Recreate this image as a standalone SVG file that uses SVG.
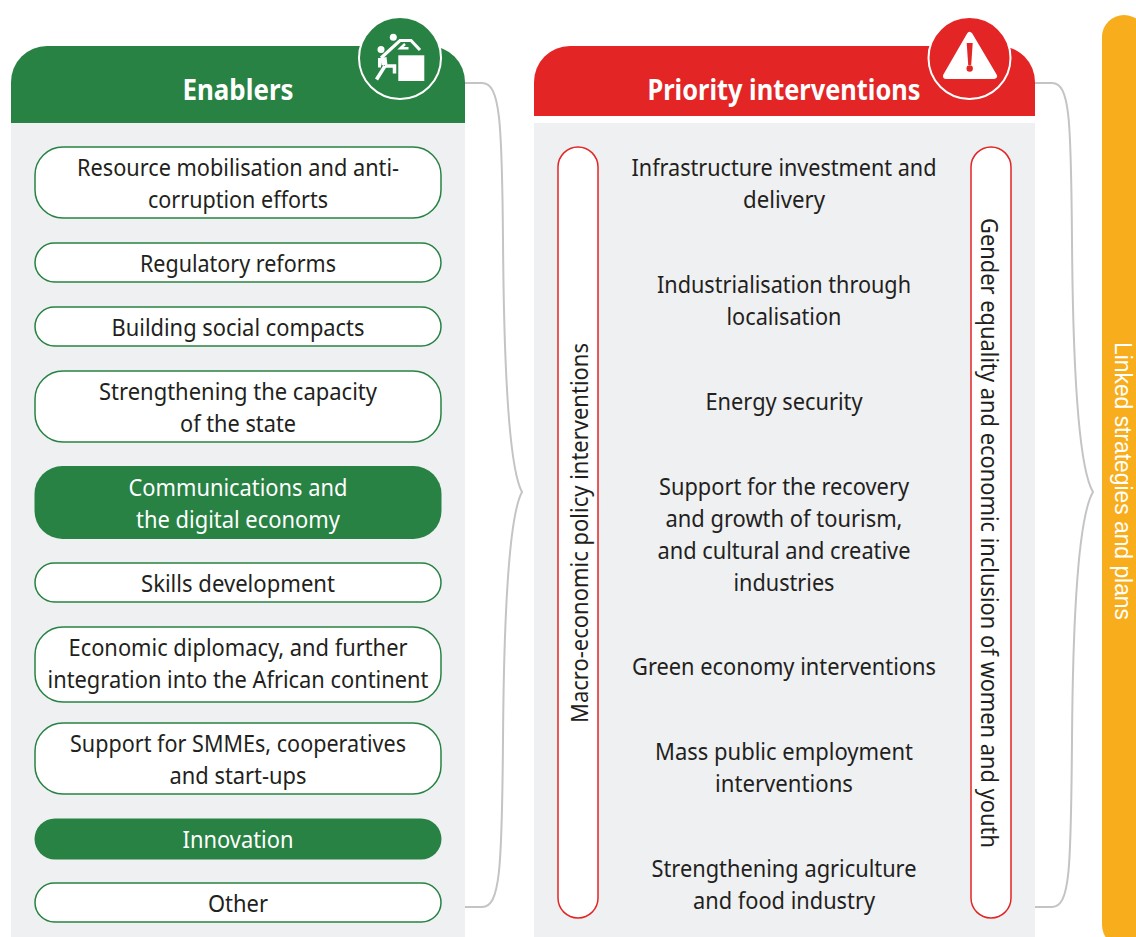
<svg xmlns="http://www.w3.org/2000/svg" width="1136" height="937" viewBox="0 0 1136 937">
<style>
text{font-family:"Noto Sans","Open Sans","Liberation Sans",sans-serif;font-size:23px;fill:#231f20;text-anchor:middle}
.w{fill:#fff}
.h{font-size:28px;font-weight:700;fill:#fff}
.p{fill:#fff;stroke:#288243;stroke-width:1.5}
.g{fill:#288243}
.r{fill:#fff;stroke:#e32526;stroke-width:1.5}
.b{fill:none;stroke:#c4c4c4;stroke-width:2}
.panel{fill:#eff0f2}
.i{fill:none;stroke:#fff}
.l{font-family:"Liberation Sans",sans-serif;fill:#fff}
</style>
<rect width="1136" height="937" fill="#fff"/>
<g id="linked"><rect x="1102" y="15" width="44" height="932" rx="22" fill="#f8ae1c"/>
<text class="l" transform="translate(1114.500 481) rotate(90)" textLength="278" lengthAdjust="spacingAndGlyphs">Linked strategies and plans</text></g>
<g id="connectors">
<path class="b" d="M465 83H482C500 83 502 120 503 240C504 380 510 470 522 492C510 514 504 600 503 740C502 870 500 907 482 907H465"/>
<path class="b" d="M1035 83H1052C1070 83 1071 120 1072 240C1073 380 1080 470 1093 492C1080 514 1073 600 1072 740C1071 870 1070 907 1052 907H1035"/>
</g>
<g id="enablers">
<rect class="panel" x="11" y="123" width="454" height="814"/>
<path class="g" d="M11 123V82a36 36 0 0 1 36-36H429a36 36 0 0 1 36 36V123z"/>
<text class="h" x="238" y="100" textLength="111" lengthAdjust="spacingAndGlyphs">Enablers</text>
<circle cx="400" cy="58" r="41" fill="#288243" stroke="#fff" stroke-width="2"/>
<g id="enablers-icon">
<rect x="398.300" y="55.300" width="26" height="25.700" fill="#fff"/>
<circle cx="393.300" cy="37.300" r="3.500" fill="#fff"/><circle cx="381" cy="49.500" r="3.500" fill="#fff"/>
<path class="i" stroke-width="3.200" d="M381 58L400 40.500H411L420 50"/>
<path class="i" stroke-width="2.500" d="M405 44L400.500 48.200H408.500"/>
<path class="i" stroke-width="3" d="M379.500 58V67.500"/>
<path class="i" stroke-width="6" d="M383.500 57.500L384.500 65"/>
<path class="i" stroke-width="3.500" d="M385 66H394.500V73.500"/>
<path class="i" stroke-width="3.500" d="M385 66L376.500 79.500"/>
</g>
</g>
<g id="priority">
<rect class="panel" x="534" y="123" width="501" height="814"/>
<path d="M534 116V82a36 36 0 0 1 36-36H999a36 36 0 0 1 36 36V116z" fill="#e32526"/>
<text class="h" x="784" y="100" textLength="273" lengthAdjust="spacingAndGlyphs">Priority interventions</text>
<circle cx="969.500" cy="58" r="41" fill="#e32526" stroke="#fff" stroke-width="2"/>
<path d="M969.700 35L994 76H946z" fill="#fff" stroke="#fff" stroke-width="6" stroke-linejoin="round"/>
<path d="M966.700 43h6l-1.500 22h-3z" fill="#e32526"/><circle cx="969.700" cy="68.500" r="3.200" fill="#e32526"/>
</g>
<g id="n1"><rect class="p" x="35" y="147" width="406" height="71" rx="28"/><text x="238" y="176" textLength="322" lengthAdjust="spacingAndGlyphs">Resource mobilisation and anti-</text><text x="238" y="208" textLength="180" lengthAdjust="spacingAndGlyphs">corruption efforts</text></g>
<g id="n2"><rect class="p" x="35" y="243" width="406" height="39" rx="19.500"/><text x="238" y="272" textLength="196" lengthAdjust="spacingAndGlyphs">Regulatory reforms</text></g>
<g id="n3"><rect class="p" x="35" y="307" width="406" height="39" rx="19.500"/><text x="238" y="336" textLength="253" lengthAdjust="spacingAndGlyphs">Building social compacts</text></g>
<g id="n4"><rect class="p" x="35" y="371" width="406" height="71" rx="28"/><text x="238" y="400" textLength="278" lengthAdjust="spacingAndGlyphs">Strengthening the capacity</text><text x="238" y="432" textLength="116" lengthAdjust="spacingAndGlyphs">of the state</text></g>
<g id="n5"><rect class="g" x="34.500" y="466" width="407" height="73" rx="28"/><text class="w" x="238" y="496" textLength="219" lengthAdjust="spacingAndGlyphs">Communications and</text><text class="w" x="238" y="528" textLength="204" lengthAdjust="spacingAndGlyphs">the digital economy</text></g>
<g id="n6"><rect class="p" x="35" y="563" width="406" height="39" rx="19.500"/><text x="238" y="592" textLength="194" lengthAdjust="spacingAndGlyphs">Skills development</text></g>
<g id="n7"><rect class="p" x="35" y="627" width="406" height="75" rx="28"/><text x="238" y="656" textLength="339" lengthAdjust="spacingAndGlyphs">Economic diplomacy, and further</text><text x="238" y="688" textLength="381" lengthAdjust="spacingAndGlyphs">integration into the African continent</text></g>
<g id="n8"><rect class="p" x="35" y="723" width="406" height="71" rx="28"/><text x="238" y="752" textLength="336" lengthAdjust="spacingAndGlyphs">Support for SMMEs, cooperatives</text><text x="238" y="784" textLength="137" lengthAdjust="spacingAndGlyphs">and start-ups</text></g>
<g id="n9"><rect class="g" x="34.500" y="818.500" width="407" height="41" rx="20.500"/><text class="w" x="238" y="848" textLength="111" lengthAdjust="spacingAndGlyphs">Innovation</text></g>
<g id="n10"><rect class="p" x="35" y="883" width="406" height="39" rx="19.500"/><text x="238" y="912" textLength="60" lengthAdjust="spacingAndGlyphs">Other</text></g>
<g id="macro"><rect class="r" x="558" y="147" width="40" height="771" rx="20"/><text transform="translate(588 533) rotate(-90)" textLength="380" lengthAdjust="spacingAndGlyphs">Macro-economic policy interventions</text></g>
<g id="gender"><rect class="r" x="971" y="147" width="40" height="771" rx="20"/><text transform="translate(981 533) rotate(90)" textLength="630" lengthAdjust="spacingAndGlyphs">Gender equality and economic inclusion of women and youth</text></g>
<g id="p1"><text x="784" y="176" textLength="305" lengthAdjust="spacingAndGlyphs">Infrastructure investment and</text><text x="784" y="208" textLength="82" lengthAdjust="spacingAndGlyphs">delivery</text></g>
<g id="p2"><text x="784" y="293" textLength="254" lengthAdjust="spacingAndGlyphs">Industrialisation through</text><text x="784" y="325" textLength="115" lengthAdjust="spacingAndGlyphs">localisation</text></g>
<g id="p3"><text x="784" y="410" textLength="157" lengthAdjust="spacingAndGlyphs">Energy security</text></g>
<g id="p4"><text x="784" y="495" textLength="250" lengthAdjust="spacingAndGlyphs">Support for the recovery</text><text x="784" y="527" textLength="237" lengthAdjust="spacingAndGlyphs">and growth of tourism,</text><text x="784" y="559" textLength="253" lengthAdjust="spacingAndGlyphs">and cultural and creative</text><text x="784" y="591" textLength="101" lengthAdjust="spacingAndGlyphs">industries</text></g>
<g id="p5"><text x="784" y="675" textLength="304" lengthAdjust="spacingAndGlyphs">Green economy interventions</text></g>
<g id="p6"><text x="784" y="760" textLength="258" lengthAdjust="spacingAndGlyphs">Mass public employment</text><text x="784" y="792" textLength="138" lengthAdjust="spacingAndGlyphs">interventions</text></g>
<g id="p7"><text x="784" y="877" textLength="265" lengthAdjust="spacingAndGlyphs">Strengthening agriculture</text><text x="784" y="909" textLength="182" lengthAdjust="spacingAndGlyphs">and food industry</text></g>
</svg>
